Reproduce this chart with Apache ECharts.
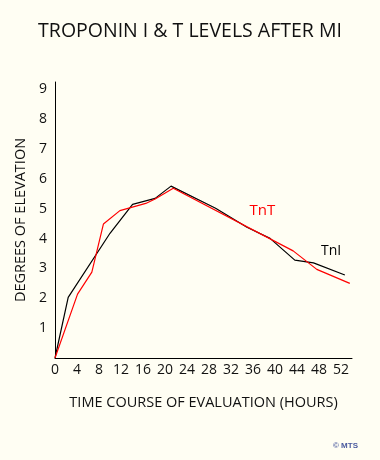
<!DOCTYPE html>
<html>
<head>
<meta charset="utf-8">
<script src="https://cdn.jsdelivr.net/npm/echarts@6/dist/echarts.min.js"></script>
<style>
html,body{margin:0;padding:0;background:#fffef3;}
#chart{width:380px;height:460px;}
</style>
</head>
<body>
<div id="chart"></div>
<script>
// Troponin I (black) : [hours, degrees of elevation]
var tniHours  = [0, 2.4, 10, 14.1, 18.2, 21.1, 29.2, 34.9, 39.1, 43.6, 47.0, 52.7];
var tniValues = [0, 2.03, 4.18, 5.15, 5.35, 5.76, 5.02, 4.38, 4.01, 3.28, 3.19, 2.78];
// Troponin T (red)
var tntHours  = [0, 4.1, 6.7, 8.8, 11.8, 16.5, 18.2, 21.5, 43.3, 47.6, 53.6];
var tntValues = [0, 2.14, 2.88, 4.49, 4.94, 5.18, 5.33, 5.69, 3.59, 2.97, 2.5];
var xTicks = [0, 4, 8, 12, 16, 20, 24, 28, 32, 36, 40, 44, 48, 52];
var yTicks = [1, 2, 3, 4, 5, 6, 7, 8, 9];
var seriesNames = ['TnI', 'TnT'];
var seriesLabelPos = [[50.2, 3.58], [37.7, 4.93]];

function pairs(xs, ys) { return xs.map(function (x, i) { return [x, ys[i]]; }); }

var font = '"Open Sans", Lato, sans-serif';
var chart = echarts.init(document.getElementById('chart'), null, {renderer: 'canvas'});
chart.setOption({
  backgroundColor: '#fffef3',
  animation: false,
  title: [{
    text: 'TROPONIN I & T LEVELS AFTER MI',
    left: 'center', top: 16,
    textStyle: {fontFamily: font, fontSize: 19.5, fontWeight: 'normal', color: '#111'}
  }, {
    text: '© MTS',
    right: 17, top: 437,
    textStyle: {fontFamily: 'Liberation Sans, Arial, sans-serif', fontSize: 8, fontWeight: 'bold', color: '#4a5a9e'}
  }],
  grid: {left: 55, right: 28, top: 82, bottom: 102},
  xAxis: {
    type: 'value', min: 0, max: 54, interval: 4,
    name: 'TIME COURSE OF EVALUATION (HOURS)',
    nameLocation: 'middle', nameGap: 37,
    nameTextStyle: {fontFamily: font, fontSize: 14.5, color: '#111'},
    axisLine: {lineStyle: {color: '#000', width: 1}},
    axisTick: {show: false},
    splitLine: {show: false},
    axisLabel: {
      fontFamily: font, fontSize: 14, color: '#111', margin: 5,
      formatter: function (v) { return xTicks.indexOf(v) >= 0 ? String(v) : ''; }
    }
  },
  yAxis: {
    type: 'value', min: 0, max: 9.25, interval: 1,
    name: 'DEGREES OF ELEVATION',
    nameLocation: 'middle', nameGap: 26, nameRotate: 90,
    nameTextStyle: {fontFamily: font, fontSize: 14.5, color: '#111'},
    axisLine: {show: true, lineStyle: {color: '#000', width: 1}},
    axisTick: {show: false},
    splitLine: {show: false},
    axisLabel: {
      fontFamily: font, fontSize: 14, color: '#111', margin: 8,
      formatter: function (v) { return yTicks.indexOf(v) >= 0 ? String(v) : ''; }
    }
  },
  series: [{
    name: seriesNames[0], type: 'line', data: pairs(tniHours, tniValues),
    symbol: 'none', lineStyle: {color: '#000', width: 1.2},
    markPoint: {
      symbol: 'circle', symbolSize: 0,
      label: {show: true, formatter: seriesNames[0], color: '#000', fontFamily: font, fontSize: 14, position: 'inside'},
      data: [{coord: seriesLabelPos[0]}]
    }
  }, {
    name: seriesNames[1], type: 'line', data: pairs(tntHours, tntValues),
    symbol: 'none', lineStyle: {color: '#ff0000', width: 1.2},
    markPoint: {
      symbol: 'circle', symbolSize: 0,
      label: {show: true, formatter: seriesNames[1], color: '#ff0000', fontFamily: font, fontSize: 15, position: 'inside'},
      data: [{coord: seriesLabelPos[1]}]
    }
  }]
});
</script>
</body>
</html>
